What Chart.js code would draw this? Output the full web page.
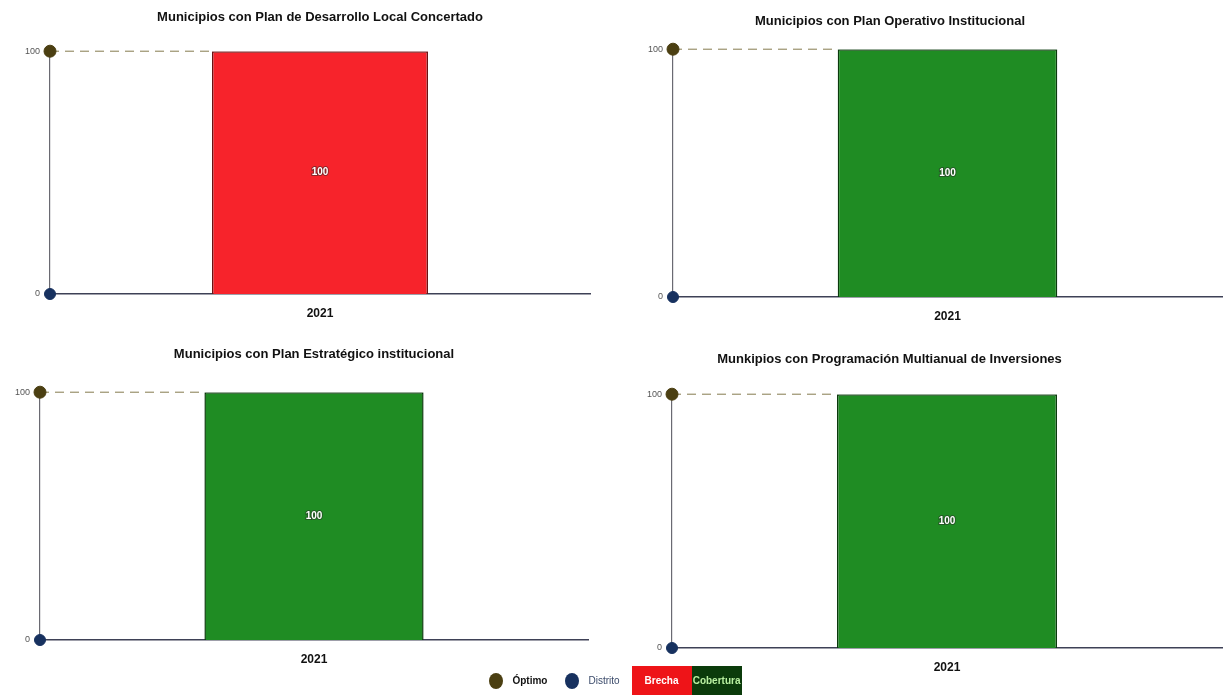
<!DOCTYPE html>
<html>
<head>
<meta charset="utf-8">
<script src="https://cdn.jsdelivr.net/npm/chart.js@4.4.1/dist/chart.umd.min.js"></script>
<style>
  html, body { margin: 0; padding: 0; background: #fff; }
  body { width: 1231px; height: 695px; position: relative; overflow: hidden; font-family: "Liberation Sans Narrow", "Liberation Sans", sans-serif; }
  .panel { position: absolute; }
  #legend { position: absolute; left: 0; width: 1231px; top: 666px; height: 29px; display: flex; justify-content: center; align-items: center; font-weight: bold; font-size: 10px; }
  .dot { width: 14px; height: 16px; border-radius: 50%; display: inline-block; margin-right: 9px; }
  .item { display: flex; align-items: center; margin-right: 18px; }
  .box { height: 29px; display: flex; align-items: center; justify-content: center; }
</style>
</head>
<body>
<div class="panel" id="p0"><canvas id="c0"></canvas></div>
<div class="panel" id="p1"><canvas id="c1"></canvas></div>
<div class="panel" id="p2"><canvas id="c2"></canvas></div>
<div class="panel" id="p3"><canvas id="c3"></canvas></div>
<div id="legend">
  <div class="item"><span class="dot" style="background:#4b3f12"></span><span style="color:#111">Óptimo</span></div>
  <div class="item" style="margin-right:12px"><span class="dot" style="background:#17315f"></span><span style="color:#3a4a6a;font-weight:normal">Distrito</span></div>
  <div class="box" style="background:#ee1418;color:#fff;width:60px">Brecha</div>
  <div class="box" style="background:#0b3b0b;color:#b8f0a0;width:50px">Cobertura</div>
</div>
<script>
// datos
const years = ["2021"];
const yearPos = [1];     // posición del año en el eje x (0 = eje y, 2 = borde derecho)
const titles = [
  "Municipios con Plan de Desarrollo Local Concertado",
  "Municipios con Plan Operativo Institucional",
  "Municipios con Plan Estratégico institucional",
  "Munkipios con Programación Multianual de Inversiones"
];
const brecha = [100, 0, 0, 0];
const cobertura = [0, 100, 100, 100];
const optimo = [100, 100, 100, 100];
const distrito = [0, 0, 0, 0];
const yTicks = [0, 100];

const xMax = 2;
const barFrac = 0.4;
// la línea del óptimo termina en el borde izquierdo de la barra
const optimoEnd = yearPos[0] - barFrac * xMax / 2;

// layout de cada panel
const boxes = [
  { left: 0,   top: 10,  width: 600, height: 314, padL: 10, padR: 10, yW: 40,  full: false, gap: 25.6 },
  { left: 549, top: 14,  width: 682, height: 313, padL: 9,  padR: 9,  yW: 115, full: true,  gap: 19.6 },
  { left: 0,   top: 347, width: 600, height: 323, padL: 0,  padR: 12, yW: 40,  full: false, gap: 29.6 },
  { left: 549, top: 352, width: 682, height: 326, padL: 8,  padR: 9,  yW: 115, full: true,  gap: 26.6 }
];

const barLabels = {
  id: "barLabels",
  afterDatasetsDraw(chart) {
    const ctx = chart.ctx;
    chart.data.datasets.forEach((ds, di) => {
      if (ds.type !== "bar") return;
      const meta = chart.getDatasetMeta(di);
      meta.data.forEach((el, i) => {
        const v = ds.data[i].y;
        if (!v) return;
        ctx.save();
        ctx.font = "bold 10px 'Liberation Sans Narrow', sans-serif";
        ctx.textAlign = "center";
        ctx.textBaseline = "middle";
        ctx.lineWidth = 2;
        ctx.strokeStyle = "rgba(40,40,40,0.5)";
        ctx.strokeText(v, el.x, (el.y + el.base) / 2);
        ctx.fillStyle = "#fff";
        ctx.fillText(v, el.x, (el.y + el.base) / 2);
        ctx.restore();
      });
    });
  }
};

function makeChart(i) {
  const b = boxes[i];
  const p = document.getElementById("p" + i);
  p.style.left = b.left + "px";
  p.style.top = b.top + "px";
  p.style.width = b.width + "px";
  p.style.height = b.height + "px";

  new Chart(document.getElementById("c" + i).getContext("2d"), {
    type: "bar",
    data: {
      datasets: [
        {
          type: "bar",
          label: "Brecha",
          data: yearPos.map((x) => ({ x: x, y: brecha[i] })),
          backgroundColor: "#f7232b",
          borderColor: "#6a1212",
          borderWidth: 1.5,
          order: 1
        },
        {
          type: "bar",
          label: "Cobertura",
          data: yearPos.map((x) => ({ x: x, y: cobertura[i] })),
          backgroundColor: "#1f8c23",
          borderColor: "#0a3a0c",
          borderWidth: 1.5,
          order: 1
        },
        {
          type: "line",
          label: "Óptimo",
          stack: "optimo",
          data: [{ x: 0, y: optimo[i] }, { x: optimoEnd, y: optimo[i] }],
          borderColor: "#857a4e",
          borderWidth: 1,
          borderDash: [9, 6],
          pointRadius: [6, 0],
          pointBackgroundColor: "#4b3f12",
          pointBorderColor: "#4b3f12",
          clip: false,
          order: 3
        },
        {
          type: "line",
          label: "Distrito",
          stack: "distrito",
          data: [{ x: 0, y: distrito[i] }],
          pointRadius: 5.5,
          pointBackgroundColor: "#17315f",
          pointBorderColor: "#17315f",
          showLine: false,
          clip: false,
          order: 0
        }
      ]
    },
    options: {
      responsive: true,
      maintainAspectRatio: false,
      animation: false,
      barPercentage: barFrac,
      categoryPercentage: 1,
      layout: { padding: { left: b.padL, right: b.padR, top: 0, bottom: 0 } },
      scales: {
        x: {
          type: "linear",
          stacked: true,
          offset: false,
          min: 0,
          max: xMax,
          afterBuildTicks: (s) => { s.ticks = yearPos.map((v) => ({ value: v })); },
          grid: { display: false, drawTicks: false, offset: false },
          border: { display: true, color: "#3e4156", width: 1.5 },
          ticks: {
            color: "#111",
            padding: 12,
            callback: (v, idx) => years[idx],
            font: { size: 12, weight: "bold", family: "'Liberation Sans Narrow', sans-serif" }
          },
          afterFit: (s) => { s.height = 30; }
        },
        y: {
          stacked: true,
          min: yTicks[0],
          max: yTicks[yTicks.length - 1],
          afterBuildTicks: (s) => { s.ticks = yTicks.map((v) => ({ value: v })); },
          grid: { display: false, drawTicks: false },
          border: { display: true, color: "#6a6a72", width: 1.2 },
          ticks: { color: "#555", padding: 10, font: { size: 9, family: "'Liberation Sans Narrow', sans-serif" } },
          afterFit: (s) => { s.width = b.yW; }
        }
      },
      plugins: {
        legend: { display: false },
        tooltip: { enabled: false },
        title: {
          display: true,
          fullSize: b.full,
          text: titles[i],
          color: "#111",
          font: { size: 13, weight: "bold", family: "'Liberation Sans Narrow', sans-serif" },
          padding: { top: 0, bottom: b.gap }
        }
      }
    },
    plugins: [barLabels]
  });
}

for (let i = 0; i < 4; i++) makeChart(i);
</script>
</body>
</html>
